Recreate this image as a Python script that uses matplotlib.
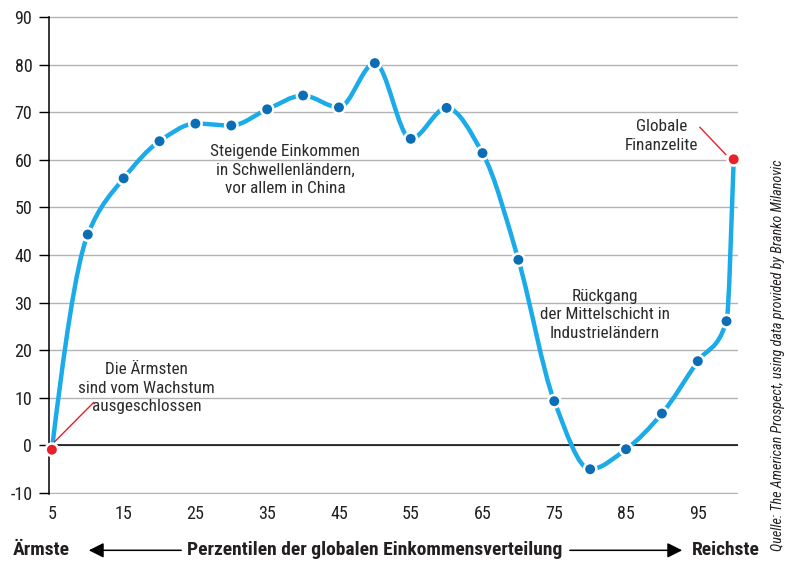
import numpy as np
import matplotlib
matplotlib.use('Agg')
import matplotlib.pyplot as plt
from matplotlib.path import Path
from matplotlib.patches import PathPatch, FancyArrowPatch
from matplotlib import font_manager

# data: real income growth 1988-2008 by global income percentile
percentile = [5, 10, 15, 20, 25, 30, 35, 40, 45, 50, 55, 60, 65, 70, 75, 80, 85, 90, 95, 99, 100]
growth = [-0.9, 44.3, 56.1, 63.9, 67.6, 67.2, 70.6, 73.5, 71.0, 80.3, 64.4, 70.9,
          61.4, 39.0, 9.3, -5.0, -0.8, 6.7, 17.7, 26.1, 60.1]
highlight = [0, 20]   # red points (poorest, richest)

yticks = list(range(-10, 91, 10))
xticks = list(range(5, 96, 10))

notes = [
    ("Steigende Einkommen\nin Schwellenländern,\nvor allem in China", 37.5, 57.8),
    ("Die Ärmsten\nsind vom Wachstum\nausgeschlossen", 18.2, 12.0),
    ("Rückgang\nder Mittelschicht in\nIndustrieländern", 82.0, 27.4),
    ("Globale\nFinanzelite", 90.0, 65.0),
]

line_color = '#1aabe8'
dot_color = '#0b6db5'
red = '#e8202a'
text_color = '#2b2b2b'

# condensed font if there is one
installed = set(f.name for f in font_manager.fontManager.ttflist)
fs = 13
for fam in ['Roboto Condensed', 'PT Sans Narrow', 'Liberation Sans Narrow']:
    if fam in installed:
        plt.rcParams['font.family'] = [fam, 'DejaVu Sans']
        break
else:
    plt.rcParams['font.family'] = ['DejaVu Sans']
    fs = 10.5
plt.rcParams['axes.unicode_minus'] = False


def smooth_path(xs, ys):
    """ monotone cubic (pchip) drawn as bezier segments """
    x = np.asarray(xs, float)
    y = np.asarray(ys, float)
    h = np.diff(x)
    delta = np.diff(y) / h
    d = np.zeros_like(y)
    for i in range(1, len(x) - 1):
        if delta[i - 1] * delta[i] > 0:
            w1 = 2 * h[i] + h[i - 1]
            w2 = h[i] + 2 * h[i - 1]
            d[i] = (w1 + w2) / (w1 / delta[i - 1] + w2 / delta[i])
    d[0] = ((2 * h[0] + h[1]) * delta[0] - h[0] * delta[1]) / (h[0] + h[1])
    d[-1] = ((2 * h[-1] + h[-2]) * delta[-1] - h[-1] * delta[-2]) / (h[-1] + h[-2])
    verts = [(x[0], y[0])]
    codes = [Path.MOVETO]
    for i in range(len(x) - 1):
        verts += [(x[i] + h[i] / 3, y[i] + d[i] * h[i] / 3),
                  (x[i + 1] - h[i] / 3, y[i + 1] - d[i + 1] * h[i] / 3),
                  (x[i + 1], y[i + 1])]
        codes += [Path.CURVE4] * 3
    return Path(verts, codes)


fig = plt.figure(figsize=(7.92, 5.65), dpi=100)
ax = fig.add_axes([49 / 792, (565 - 494) / 565, 689 / 792, 478 / 565])

ax.set_xlim(4.6, 100.6)
ax.set_ylim(-10.2, 90.2)

# grid
ax.set_yticks(yticks)
ax.yaxis.grid(True, color='#b3b3b3', lw=1)
ax.set_axisbelow(True)
ax.axhline(0, color='black', lw=1.1, zorder=1)

for s in ['top', 'right', 'bottom']:
    ax.spines[s].set_visible(False)
ax.spines['left'].set_color('black')
ax.spines['left'].set_linewidth(1.1)
ax.spines['left'].set_bounds(-10.2, 90)
ax.spines['left'].set_zorder(1)

ax.set_xticks(xticks)
ax.tick_params(axis='y', length=7, width=1, direction='out', pad=5,
               labelsize=fs, labelcolor='#231f20')
ax.tick_params(axis='x', length=0, pad=8, labelsize=fs, labelcolor='#231f20')

# curve
patch = PathPatch(smooth_path(percentile, growth), fill=False, ec=line_color,
                  lw=3.2, capstyle='round', zorder=3)
ax.add_patch(patch)

cols = [red if i in highlight else dot_color for i in range(len(percentile))]
ax.scatter(percentile, growth, s=80, c=cols, edgecolors='white', linewidths=1.8,
           zorder=4, clip_on=False)

# annotations
for txt, x, y in notes:
    ax.text(x, y, txt, ha='center', va='center', fontsize=fs * 0.95, color=text_color,
            linespacing=1.28, zorder=5)

ax.plot([5.4, 10.8], [0.8, 9.0], color=red, lw=1, zorder=5)
ax.plot([95.3, 98.9], [66.8, 61.1], color=red, lw=1, zorder=5)

# bottom axis label with arrows
yb = 0.026
fb = fs * 1.08
fig.text(13 / 792, yb, 'Ärmste', fontsize=fb, fontweight='bold', ha='left',
         va='center', color='#231f20')
fig.text(760 / 792, yb, 'Reichste', fontsize=fb, fontweight='bold', ha='right',
         va='center', color='#231f20')
fig.text(375 / 792, yb, 'Perzentilen der globalen Einkommensverteilung', fontsize=fb,
         fontweight='bold', ha='center', va='center', color='#231f20')
for start, end in [((184, yb), (86, yb)), ((567, yb), (685, yb))]:
    fig.patches.append(FancyArrowPatch(
        (start[0] / 792, start[1]), (end[0] / 792, end[1]), transform=fig.transFigure,
        arrowstyle='-|>,head_length=6,head_width=3', color='black', lw=1.1,
        mutation_scale=1.5))

# source
fig.text(778 / 792, (565 - 355) / 565,
         'Quelle: The American Prospect, using data provided by Branko Milanovic',
         rotation=90, ha='center', va='center', fontsize=fs * 0.78, style='italic',
         color='#231f20')

fig.savefig('out.png', dpi=100)
